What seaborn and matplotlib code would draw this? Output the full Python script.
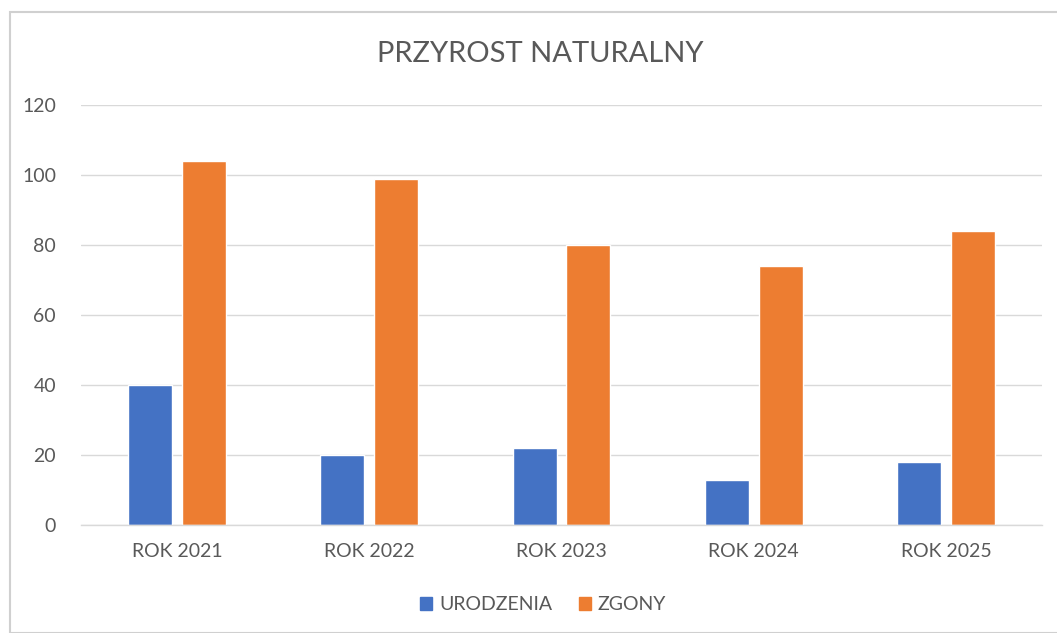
import pandas as pd
import matplotlib.pyplot as plt
import seaborn as sns
from matplotlib.patches import Rectangle

# values
years = ['ROK 2021', 'ROK 2022', 'ROK 2023', 'ROK 2024', 'ROK 2025']
urodzenia = [40, 20, 22, 13, 18]
zgony = [104, 99, 80, 74, 84]
series = ['URODZENIA', 'ZGONY']
colors = ['#4472C4', '#ED7D31']

df = pd.DataFrame({
    'rok': years * 2,
    'wartosc': urodzenia + zgony,
    'seria': [series[0]] * len(years) + [series[1]] * len(years),
})

sns.set_style('white')
plt.rcParams['font.family'] = ['Lato', 'DejaVu Sans']
text_color = '#595959'

fig = plt.figure(figsize=(10.57, 6.33), dpi=100)
ax = fig.add_axes([81 / 1057, 1 - 525 / 633, (1042 - 81) / 1057, 420 / 633])

sns.barplot(data=df, x='rok', y='wartosc', hue='seria', palette=colors,
            width=0.56, gap=0.18, saturation=1, ax=ax, legend=False)

ax.set_ylim(0, 120)
ax.set_xlim(-0.5, len(years) - 0.5)
ax.set_yticks(range(0, 121, 20))
ax.yaxis.grid(True, color='#d9d9d9', linewidth=1)
ax.set_axisbelow(True)
for s in ['left', 'right', 'top']:
    ax.spines[s].set_visible(False)
ax.spines['bottom'].set_color('#d9d9d9')
ax.spines['bottom'].set_linewidth(1)
ax.tick_params(axis='both', length=0, labelsize=14, labelcolor=text_color)
ax.tick_params(axis='y', pad=18)
ax.tick_params(axis='x', pad=13)
ax.set_xlabel('')
ax.set_ylabel('')

fig.text(0.511, 1 - 54 / 633, 'PRZYROST NATURALNY', ha='center', va='center',
         fontsize=21, color=text_color)

handles = [Rectangle((0, 0), 1, 1, color=c) for c in colors]
fig.legend(handles, series, loc='center', bbox_to_anchor=(0.514, 1 - 605 / 633),
           ncol=2, frameon=False, fontsize=14, labelcolor=text_color,
           handlelength=0.6, handleheight=0.6, handletextpad=0.35, columnspacing=1.4)

# chart frame
fig.patches.append(Rectangle((10 / 1057, 0), 1.0, 1 - 12 / 633, transform=fig.transFigure,
                             fill=False, edgecolor='#d0d0d0', linewidth=1.5))

plt.savefig('out.png', dpi=100)
